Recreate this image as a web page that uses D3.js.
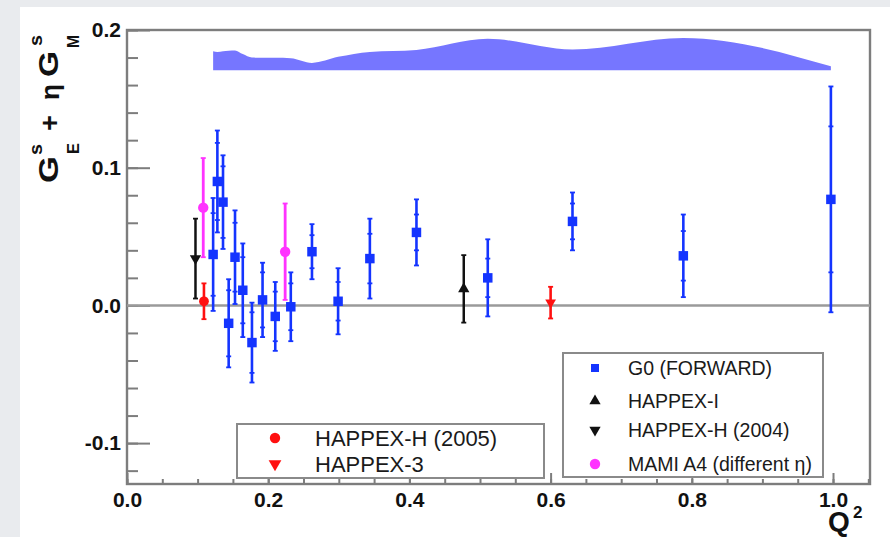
<!DOCTYPE html>
<html>
<head>
<meta charset="utf-8">
<script src="https://cdn.jsdelivr.net/npm/d3@7/dist/d3.min.js"></script>
<style>
  html, body { margin: 0; padding: 0; background: #e9ebee; }
  svg { display: block; }
  text { font-family: "Liberation Sans", Arial, Helvetica, sans-serif; }
</style>
</head>
<body>
<div id="chart"></div>
<script>
'use strict';

// G0 forward angle points
const g0Q2   = [0.122, 0.128, 0.136, 0.144, 0.153, 0.164, 0.177, 0.192, 0.210, 0.232, 0.262, 0.299, 0.344, 0.410, 0.511, 0.631, 0.788, 0.997];
const g0Val  = [0.037, 0.090, 0.075, -0.013, 0.035, 0.011, -0.027, 0.004, -0.008, -0.001, 0.039, 0.003, 0.034, 0.053, 0.020, 0.061, 0.036, 0.077];
const g0Tot  = [0.041, 0.037, 0.034, 0.032, 0.034, 0.034, 0.029, 0.027, 0.025, 0.025, 0.020, 0.024, 0.029, 0.024, 0.028, 0.021, 0.030, 0.082];
const g0Stat = [0.030, 0.028, 0.026, 0.024, 0.025, 0.024, 0.022, 0.020, 0.018, 0.017, 0.012, 0.014, 0.018, 0.013, 0.014, 0.013, 0.018, 0.053];

// systematic band (top edge, bottom is flat)
const bandTop = [0.1846, 0.1840, 0.1845, 0.1850, 0.1852, 0.1825, 0.1800, 0.1798, 0.1798, 0.1795, 0.1761, 0.1805, 0.1841, 0.1855, 0.1936, 0.1858, 0.1942, 0.1737];
const bandBase = 0.1708;

// other experiments
const happexH05 = [{ q2: 0.109, v: 0.003, e: 0.013 }];
const happex3   = [{ q2: 0.600, v: 0.002, e: 0.0115 }];
const happexI   = [{ q2: 0.477, v: 0.012, e: 0.0245 }];
const happexH04 = [{ q2: 0.097, v: 0.034, e: 0.029 }];
const mamiA4    = [{ q2: 0.108, v: 0.071, e: 0.036 }, { q2: 0.224, v: 0.039, e: 0.035 }];

const xTicks = [0, 0.2, 0.4, 0.6, 0.8, 1.0];
const xTickLabels = ['0.0', '0.2', '0.4', '0.6', '0.8', '1.0'];
const yTicks = [-0.1, 0, 0.1, 0.2];
const yTickLabels = ['-0.1', '0.0', '0.1', '0.2'];

const legendLeft = ['HAPPEX-H (2005)', 'HAPPEX-3'];
const legendRight = ['G0 (FORWARD)', 'HAPPEX-I', 'HAPPEX-H (2004)', 'MAMI A4 (different \u03b7)'];

const W = 890, H = 537;
const frame = { left: 127, top: 30, right: 870, bottom: 484 };

const BLUE = '#1434ff', RED = '#ff1010', MAG = '#ff33ff', BLACK = '#111';

const svg = d3.select('#chart').append('svg')
    .attr('width', W).attr('height', H);

svg.append('rect').attr('width', W).attr('height', H).attr('fill', '#e9ebee');
svg.append('rect').attr('x', 20).attr('y', 7).attr('width', W - 20).attr('height', H - 7).attr('fill', '#fff');

const x = d3.scaleLinear().domain([0, 1.0524]).range([frame.left, frame.right]);
const y = d3.scaleLinear().domain([-0.1297, 0.2]).range([frame.bottom, frame.top]);

const AXIS = '#7d7d7d';

// minor ticks
const xMinor = d3.range(0, 1.051, 0.05);
const yMinor = d3.range(-0.12, 0.2001, 0.02);

svg.append('g')
    .attr('transform', 'translate(0,' + frame.bottom + ')')
    .call(d3.axisBottom(x).tickValues(xMinor).tickSize(-5).tickFormat(''))
    .call(g => g.select('.domain').remove())
    .call(g => g.selectAll('line').attr('stroke', AXIS).attr('stroke-width', 2));

svg.append('g')
    .attr('transform', 'translate(' + frame.left + ',0)')
    .call(d3.axisLeft(y).tickValues(yMinor).tickSize(-11).tickFormat(''))
    .call(g => g.select('.domain').remove())
    .call(g => g.selectAll('line').attr('stroke', AXIS).attr('stroke-width', 2));

// major ticks with labels
svg.append('g')
    .attr('transform', 'translate(0,' + frame.bottom + ')')
    .call(d3.axisBottom(x).tickValues(xTicks).tickSize(-11).tickPadding(8)
        .tickFormat((d, i) => xTickLabels[i]))
    .call(g => g.select('.domain').remove())
    .call(g => g.selectAll('line').attr('stroke', AXIS).attr('stroke-width', 2))
    .call(g => g.selectAll('text').attr('fill', '#111').attr('font-size', 21).attr('font-weight', 'bold')
        .attr('font-family', '"Liberation Sans", Arial, sans-serif'));

svg.append('g')
    .attr('transform', 'translate(' + frame.left + ',0)')
    .call(d3.axisLeft(y).tickValues(yTicks).tickSize(-23).tickPadding(6)
        .tickFormat((d, i) => yTickLabels[i]))
    .call(g => g.select('.domain').remove())
    .call(g => g.selectAll('line').attr('stroke', AXIS).attr('stroke-width', 2))
    .call(g => g.selectAll('text').attr('fill', '#111').attr('font-size', 21).attr('font-weight', 'bold')
        .attr('font-family', '"Liberation Sans", Arial, sans-serif'));

// frame
svg.append('rect')
    .attr('x', frame.left).attr('y', frame.top)
    .attr('width', frame.right - frame.left).attr('height', frame.bottom - frame.top)
    .attr('fill', 'none').attr('stroke', AXIS).attr('stroke-width', 2.4);

// zero line
svg.append('line')
    .attr('x1', frame.left).attr('x2', frame.right)
    .attr('y1', y(0)).attr('y2', y(0))
    .attr('stroke', '#9a9a9a').attr('stroke-width', 2.5);

// systematic band
const band = d3.area()
    .x((d, i) => x(g0Q2[i]))
    .y0(() => y(bandBase))
    .y1(d => y(d))
    .curve(d3.curveMonotoneX);

svg.append('path')
    .datum(bandTop)
    .attr('d', band)
    .attr('fill', '#7676ff');

// error bar helper
function errorBars(data, color, width, tickW) {
    const g = svg.append('g');
    data.forEach(d => {
        g.append('line')
            .attr('x1', x(d.q2)).attr('x2', x(d.q2))
            .attr('y1', y(d.v - d.e)).attr('y2', y(d.v + d.e))
            .attr('stroke', color).attr('stroke-width', width);
        const ends = [d.v - d.e, d.v + d.e].concat(d.s ? [d.v - d.s, d.v + d.s] : []);
        ends.forEach(t => {
            g.append('line')
                .attr('x1', x(d.q2) - tickW / 2).attr('x2', x(d.q2) + tickW / 2)
                .attr('y1', y(t)).attr('y2', y(t))
                .attr('stroke', color).attr('stroke-width', 1.8);
        });
    });
}

function markers(data, color, type, size, rot) {
    svg.append('g').selectAll('path')
        .data(data).enter()
        .append('path')
        .attr('d', d3.symbol().type(type).size(size))
        .attr('transform', d => 'translate(' + x(d.q2) + ',' + y(d.v) + ')' + (rot ? ' rotate(180)' : ''))
        .attr('fill', color);
}

const g0 = g0Q2.map((q, i) => ({ q2: q, v: g0Val[i], e: g0Tot[i], s: g0Stat[i] }));

errorBars(happexH04, BLACK, 2.5, 5);
errorBars(mamiA4, MAG, 2.8, 5);
errorBars(g0, BLUE, 2.6, 5);
errorBars(happexH05, RED, 2.6, 5);
errorBars(happex3, RED, 2.6, 5);
errorBars(happexI, BLACK, 2.5, 5);

markers(happexH04, BLACK, d3.symbolTriangle, 55, true);
markers(mamiA4, MAG, d3.symbolCircle, 85, false);
markers(g0, BLUE, d3.symbolSquare, 90, false);
markers(happexH05, RED, d3.symbolCircle, 75, false);
markers(happex3, RED, d3.symbolTriangle, 50, true);
markers(happexI, BLACK, d3.symbolTriangle, 55, false);

// legends
function legendBox(x0, y0, w, h) {
    svg.append('rect')
        .attr('x', x0).attr('y', y0).attr('width', w).attr('height', h)
        .attr('fill', '#fff').attr('stroke', '#8a8a8a').attr('stroke-width', 2);
}

function legendEntry(mx, my, color, type, size, rot, label, tx, fs) {
    svg.append('path')
        .attr('d', d3.symbol().type(type).size(size))
        .attr('transform', 'translate(' + mx + ',' + my + ')' + (rot ? ' rotate(180)' : ''))
        .attr('fill', color);
    svg.append('text')
        .attr('x', tx).attr('y', my)
        .attr('dy', '0.36em')
        .attr('font-size', fs)
        .attr('fill', '#1a1a1a')
        .text(label);
}

legendBox(237, 424, 307, 54);
legendEntry(275, 438, RED, d3.symbolCircle, 85, false, legendLeft[0], 315, 22);
legendEntry(275, 464, RED, d3.symbolTriangle, 70, true, legendLeft[1], 315, 22);

legendBox(563, 353, 260, 124);
legendEntry(595, 368, BLUE, d3.symbolSquare, 64, false, legendRight[0], 628, 19.5);
legendEntry(595, 401, BLACK, d3.symbolTriangle, 55, false, legendRight[1], 628, 19.5);
legendEntry(595, 430, BLACK, d3.symbolTriangle, 55, true, legendRight[2], 628, 19.5);
legendEntry(595, 464, MAG, d3.symbolCircle, 85, false, legendRight[3], 628, 19.5);

// y title: G_E^s + eta G_M^s
const yt = svg.append('g')
    .attr('transform', 'translate(58,183) rotate(-90)')
    .attr('font-weight', 'bold').attr('fill', '#111');
[
    { t: 'G', x: 0, y: 0, fs: 27, len: 27 },
    { t: 's', x: 28, y: -16, fs: 18, len: 11 },
    { t: 'E', x: 29, y: 21, fs: 16, len: 11 },
    { t: '+', x: 52, y: 1, fs: 27, len: 16 },
    { t: '\u03b7', x: 83, y: 1, fs: 26, len: 16 },
    { t: 'G', x: 106, y: 0, fs: 27, len: 26 },
    { t: 's', x: 137, y: -16, fs: 18, len: 11 },
    { t: 'M', x: 135, y: 21, fs: 16, len: 13 }
].forEach(p => {
    yt.append('text')
        .attr('x', p.x).attr('y', p.y)
        .attr('font-size', p.fs)
        .attr('textLength', p.len).attr('lengthAdjust', 'spacingAndGlyphs')
        .text(p.t);
});

// x title: Q^2
svg.append('text')
    .attr('x', 828).attr('y', 531)
    .attr('font-size', 28).attr('font-weight', 'bold').attr('fill', '#111')
    .text('Q');
svg.append('text')
    .attr('x', 853).attr('y', 518)
    .attr('font-size', 17).attr('font-weight', 'bold').attr('fill', '#111')
    .text('2');
</script>
</body>
</html>
